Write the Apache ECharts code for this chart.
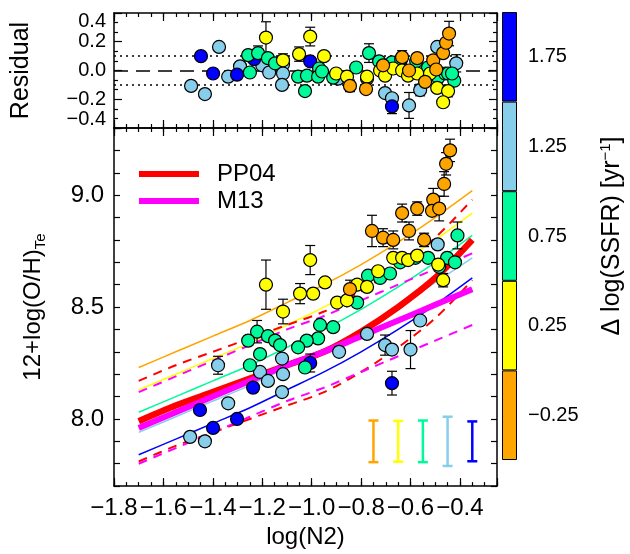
<!DOCTYPE html>
<html>
<head>
<meta charset="utf-8">
<script src="https://cdn.jsdelivr.net/npm/echarts@6/dist/echarts.min.js"></script>
<style>
html, body { margin: 0; padding: 0; background: #fff; }
#id-div-chart { width: 630px; height: 554px; }
</style>
</head>
<body>
<div id="id-div-chart"></div>
<script>
var e = (selector) => document.querySelector(selector)

// 色条的分档
var binTicks = ['\u22120.25', '0.25', '0.75', '1.25', '1.75']
var binBlocks = [1, 1, 1, 1, 1]

// 上面板: residual, [log(N2), residual]
var resOrange = [[-0.845, -0.107], [-0.78, -0.129], [-0.711, 0.036], [-0.634, 0.093], [-0.606, 0.0], [-0.573, 0.086],
    [-0.541, -0.079], [-0.508, 0.071], [-0.496, 0.007], [-0.468, 0.121], [-0.456, 0.193], [-0.444, 0.257]]
var resYellow = [[-1.185, 0.229], [-1.116, 0.071], [-1.051, 0.114], [-1.006, 0.236], [-0.95, 0.10], [-0.901, -0.021],
    [-0.857, -0.043], [-0.776, -0.043], [-0.723, 0.0], [-0.703, -0.036], [-0.67, 0.014], [-0.634, 0.0], [-0.61, -0.036],
    [-0.573, -0.021], [-0.521, -0.021], [-0.492, -0.121], [-0.448, -0.143], [-0.468, -0.221]]
var resGreen = [[-1.257, 0.107], [-1.25, -0.014], [-1.217, 0.121], [-1.177, 0.086], [-1.148, 0.05], [-1.055, -0.043],
    [-1.019, -0.036], [-1.027, -0.143], [-0.97, 0.014], [-0.974, -0.043], [-0.958, -0.007], [-0.913, -0.05], [-0.82, 0.021],
    [-0.768, 0.121], [-0.727, 0.064], [-0.675, 0.057], [-0.638, 0.079], [-0.577, 0.064], [-0.529, 0.021], [-0.488, -0.05],
    [-0.46, -0.021], [-0.448, -0.021], [-0.423, -0.071], [-0.432, -0.021]]
var resSky = [[-1.488, -0.107], [-1.432, -0.164], [-1.375, 0.164], [-1.338, -0.043], [-1.29, 0.029], [-1.2, 0.036],
    [-1.172, -0.014], [-1.116, 0.043], [-1.116, -0.021], [-1.12, -0.10], [-0.893, -0.057], [-0.776, -0.057], [-0.703, -0.157],
    [-0.675, -0.193], [-0.606, -0.243], [-0.561, -0.136], [-0.492, 0.164], [-0.415, 0.05]]
var resBlue = [[-1.448, 0.10], [-1.399, -0.021], [-1.302, -0.029], [-1.233, 0.079], [-1.006, 0.064], [-0.675, -0.25]]
// [log(N2), residual, error]
var resErrors = [[-1.185, 0.229, 0.11], [-1.006, 0.236, 0.065], [-1.051, 0.114, 0.05], [-1.116, 0.071, 0.045],
    [-1.217, 0.121, 0.05], [-0.768, 0.121, 0.065], [-0.634, 0.093, 0.045], [-0.444, 0.257, 0.085], [-0.415, 0.05, 0.06],
    [-0.606, -0.243, 0.09], [-0.675, -0.25, 0.05], [-0.845, -0.107, 0.04], [-0.448, -0.143, 0.04], [-0.468, -0.221, 0.03],
    [-0.561, -0.136, 0.04], [-0.675, 0.057, 0.03]]
var resLevels = [0.1, -0.1]
var resZero = [0]

// 下面板: [log(N2), 12+log(O/H)]
var ohOrange = [[-0.44, 9.20], [-0.456, 9.14], [-0.464, 9.05], [-0.508, 8.98], [-0.513, 8.93], [-0.484, 8.94],
    [-0.573, 8.94], [-0.634, 8.92], [-0.756, 8.84], [-0.711, 8.81], [-0.67, 8.80], [-0.606, 8.84], [-0.545, 8.80], [-0.845, 8.58]]
var ohYellow = [[-1.185, 8.60], [-1.116, 8.48], [-1.006, 8.71], [-1.047, 8.56], [-0.994, 8.56], [-0.946, 8.61],
    [-0.897, 8.52], [-0.857, 8.53], [-0.816, 8.60], [-0.776, 8.59], [-0.731, 8.66], [-0.67, 8.72], [-0.634, 8.72],
    [-0.61, 8.71], [-0.573, 8.73], [-0.488, 8.69], [-0.468, 8.62]]
var ohGreen = [[-0.816, 8.52], [-0.772, 8.64], [-0.723, 8.63], [-0.683, 8.65], [-0.642, 8.70], [-0.58, 8.72],
    [-0.529, 8.72], [-0.452, 8.72], [-0.42, 8.70], [-0.484, 8.68], [-0.41, 8.82], [-0.966, 8.42], [-0.913, 8.41],
    [-0.974, 8.36], [-1.02, 8.35], [-1.027, 8.23], [-1.055, 8.32], [-1.221, 8.39], [-1.257, 8.35], [-1.177, 8.37],
    [-1.148, 8.35], [-1.128, 8.33], [-1.209, 8.29], [-1.25, 8.24]]
var ohSky = [[-0.49, 8.78], [-0.561, 8.44], [-0.776, 8.38], [-0.703, 8.33], [-0.675, 8.31], [-0.60, 8.31],
    [-0.889, 8.30], [-1.12, 8.27], [-1.209, 8.21], [-1.177, 8.17], [-1.116, 8.20], [-1.12, 8.12], [-1.379, 8.24],
    [-1.338, 8.07], [-1.492, 7.92], [-1.432, 7.90]]
var ohBlue = [[-0.675, 8.16], [-1.006, 8.25], [-1.237, 8.14], [-1.452, 8.04], [-1.302, 8.00], [-1.399, 7.96]]
var ohErrors = [[-0.44, 9.20, 0.05], [-0.456, 9.14, 0.05], [-0.464, 9.05, 0.055], [-0.508, 8.98, 0.05], [-0.484, 8.94, 0.055],
    [-0.573, 8.94, 0.03], [-0.634, 8.92, 0.04], [-0.756, 8.84, 0.07], [-0.711, 8.81, 0.04], [-0.67, 8.80, 0.04],
    [-0.606, 8.84, 0.04], [-0.545, 8.80, 0.03], [-1.006, 8.71, 0.065], [-1.185, 8.60, 0.11], [-1.116, 8.48, 0.055],
    [-1.047, 8.56, 0.045], [-0.946, 8.61, 0.02], [-0.845, 8.58, 0.04], [-0.60, 8.31, 0.085], [-0.675, 8.16, 0.053],
    [-0.703, 8.33, 0.045], [-0.41, 8.82, 0.06], [-1.006, 8.25, 0.04], [-1.379, 8.24, 0.04], [-1.221, 8.39, 0.05],
    [-1.432, 7.90, 0.02], [-0.468, 8.62, 0.03]]
// 右下角每档的典型误差
var typicalErrors = [[-0.75, 7.90, 0.093], [-0.65, 7.90, 0.091], [-0.55, 7.90, 0.093], [-0.45, 7.90, 0.11], [-0.35, 7.90, 0.089]]

// 关系曲线
var curveX = [-1.7, -1.55, -1.4, -1.25, -1.1, -0.95, -0.8, -0.65, -0.5, -0.35]
var pp04 = [7.99, 8.06, 8.12, 8.18, 8.24, 8.30, 8.39, 8.50, 8.63, 8.80]
var pp04Up = [8.17, 8.24, 8.30, 8.36, 8.42, 8.48, 8.57, 8.68, 8.81, 8.98]
var pp04Low = [7.81, 7.88, 7.94, 8.00, 8.06, 8.12, 8.21, 8.32, 8.45, 8.62]
var m13 = [7.96, 8.03, 8.10, 8.17, 8.24, 8.30, 8.37, 8.44, 8.51, 8.58]
var m13Up = [8.12, 8.19, 8.26, 8.33, 8.40, 8.46, 8.53, 8.60, 8.67, 8.74]
var m13Low = [7.80, 7.87, 7.94, 8.01, 8.08, 8.14, 8.21, 8.28, 8.35, 8.42]
var fitOrange = [8.23, 8.30, 8.37, 8.44, 8.52, 8.60, 8.69, 8.79, 8.90, 9.02]
var fitYellow = [8.13, 8.20, 8.27, 8.34, 8.42, 8.50, 8.59, 8.69, 8.80, 8.92]
var fitGreen = [8.03, 8.10, 8.17, 8.24, 8.32, 8.40, 8.49, 8.59, 8.70, 8.82]
var fitSky = [7.94, 8.01, 8.08, 8.15, 8.23, 8.31, 8.40, 8.50, 8.61, 8.72]
var fitBlue = [7.84, 7.91, 7.98, 8.05, 8.13, 8.21, 8.30, 8.40, 8.51, 8.63]

var binColors = ['#FFA500', '#FFFF00', '#00FA9A', '#87CEEB', '#0000FF']
var font = 'Liberation Sans, Arial, sans-serif'

var pairs = function(xs, ys) {
    var out = []
    for (var i = 0; i < xs.length; i++) {
        out.push([xs[i], ys[i]])
    }
    return out
}

var minusSign = function(s) {
    return s.replace('-', '\u2212')
}

var isStep = function(v, step) {
    var k = v / step
    return Math.abs(k - Math.round(k)) < 1e-6
}

var xAxisOf = function(grid, position, interval, tickLen, major, labels) {
    return {
        type: 'value', gridIndex: grid, position: position,
        min: -1.8, max: -0.25, interval: interval,
        axisLine: {show: major, onZero: false, lineStyle: {color: '#000', width: 1.5}},
        axisTick: {show: true, inside: true, length: tickLen, lineStyle: {color: '#000', width: 1.2}},
        axisLabel: {
            show: labels, margin: 10, fontSize: 24, fontFamily: font, color: '#000', hideOverlap: false,
            formatter: function(v) {
                return isStep(v, 0.2) ? minusSign(v.toFixed(1)) : ''
            },
        },
        splitLine: {show: false},
    }
}

var errorBars = function(color, width, cap) {
    return function(params, api) {
        var x = api.value(0)
        var y = api.value(1)
        var err = api.value(2)
        var top = api.coord([x, y + err])
        var bot = api.coord([x, y - err])
        var c = typeof color == 'function' ? color(params.dataIndex) : color
        var style = {stroke: c, lineWidth: width}
        return {
            type: 'group',
            children: [
                {type: 'line', shape: {x1: top[0], y1: top[1], x2: bot[0], y2: bot[1]}, style: style},
                {type: 'line', shape: {x1: top[0] - cap, y1: top[1], x2: top[0] + cap, y2: top[1]}, style: style},
                {type: 'line', shape: {x1: bot[0] - cap, y1: bot[1], x2: bot[0] + cap, y2: bot[1]}, style: style},
            ],
        }
    }
}

var dots = function(name, data, color, xi, yi) {
    return {
        name: name, type: 'scatter', xAxisIndex: xi, yAxisIndex: yi, data: data,
        symbol: 'circle', symbolSize: 13, z: 5, silent: true,
        itemStyle: {color: color, borderColor: '#000', borderWidth: 1.2, opacity: 1},
    }
}

var curve = function(name, ys, color, width, dash, z) {
    return {
        name: name, type: 'line', xAxisIndex: 4, yAxisIndex: 2, data: pairs(curveX, ys),
        showSymbol: false, smooth: 0.3, z: z, silent: true, color: color,
        lineStyle: {color: color, width: width, type: dash},
    }
}

var buildOption = function() {
    var refLines = []
    for (var i = 0; i < resLevels.length; i++) {
        refLines.push({yAxis: resLevels[i], lineStyle: {type: [2, 4], width: 1.6, color: '#000'}})
    }
    refLines.push({yAxis: resZero[0], lineStyle: {type: [14, 8], width: 1.5, color: '#000'}})

    var option = {
        animation: false,
        backgroundColor: '#fff',
        textStyle: {fontFamily: font},
        grid: [
            {left: 114, top: 13, width: 383, height: 115},
            {left: 114, top: 128, width: 383, height: 359},
            {left: 502, top: 12, width: 15, height: 448},
        ],
        legend: {
            data: ['PP04', 'M13'], orient: 'vertical', left: 139, top: 162, padding: 0,
            icon: 'rect', itemWidth: 60, itemHeight: 6, itemGap: 3, selectedMode: false,
            textStyle: {fontSize: 24, color: '#000', fontFamily: font, padding: [0, 0, 0, 13]},
        },
        xAxis: [
            xAxisOf(0, 'bottom', 0.2, 8, true, false),
            xAxisOf(0, 'bottom', 0.05, 4, false, false),
            xAxisOf(0, 'top', 0.2, 8, true, false),
            xAxisOf(0, 'top', 0.05, 4, false, false),
            Object.assign(xAxisOf(1, 'bottom', 0.2, 8, true, true), {
                name: 'log(N2)', nameLocation: 'middle', nameGap: 38,
                nameTextStyle: {fontSize: 24, color: '#000', fontFamily: font},
            }),
            xAxisOf(1, 'bottom', 0.05, 4, false, false),
            xAxisOf(1, 'top', 0.2, 8, true, false),
            xAxisOf(1, 'top', 0.05, 4, false, false),
            {type: 'value', gridIndex: 2, min: 0, max: 1, show: false},
        ],
        yAxis: [
            {
                type: 'value', gridIndex: 0, position: 'left', min: -0.4, max: 0.4, interval: 0.2,
                name: 'Residual', nameLocation: 'middle', nameGap: 80, nameRotate: 90,
                nameTextStyle: {fontSize: 25, color: '#000', fontFamily: font},
                axisLine: {show: true, onZero: false, lineStyle: {color: '#000', width: 1.5}},
                axisTick: {inside: true, length: 8, lineStyle: {color: '#000', width: 1.2}},
                minorTick: {show: true, splitNumber: 3, length: 4, lineStyle: {color: '#000', width: 1.2}},
                axisLabel: {
                    fontSize: 20, lineHeight: 17, color: '#000', fontFamily: font, margin: 8,
                    hideOverlap: false, interval: 0,
                    showMinLabel: true, showMaxLabel: true,
                    verticalAlignMinLabel: 'bottom', verticalAlignMaxLabel: 'top',
                    formatter: function(v) { return minusSign(v.toFixed(1)) },
                },
                splitLine: {show: false},
            },
            {
                type: 'value', gridIndex: 0, position: 'right', min: -0.4, max: 0.4, interval: 0.2,
                axisLine: {show: true, onZero: false, lineStyle: {color: '#000', width: 1.5}},
                axisTick: {inside: true, length: 8, lineStyle: {color: '#000', width: 1.2}},
                minorTick: {show: true, splitNumber: 3, length: 4, lineStyle: {color: '#000', width: 1.2}},
                axisLabel: {show: false},
                splitLine: {show: false},
            },
            {
                type: 'value', gridIndex: 1, position: 'left', min: 7.7, max: 9.3, interval: 0.1,
                name: '12+log(O/H){sub|Te}', nameLocation: 'middle', nameGap: 66, nameRotate: 90,
                nameTextStyle: {
                    fontSize: 24, color: '#000', fontFamily: font,
                    rich: {sub: {fontSize: 15, fontFamily: font, color: '#000', padding: [14, 0, 0, 0]}},
                },
                axisLine: {show: true, onZero: false, lineStyle: {color: '#000', width: 1.5}},
                axisTick: {inside: true, length: 6, lineStyle: {color: '#000', width: 1.2}},
                axisLabel: {
                    fontSize: 24, color: '#000', fontFamily: font, margin: 10, hideOverlap: false, interval: 0,
                    formatter: function(v) { return isStep(v, 0.5) ? v.toFixed(1) : '' },
                },
                splitLine: {show: false},
            },
            {
                type: 'value', gridIndex: 1, position: 'right', min: 7.7, max: 9.3, interval: 0.1,
                axisLine: {show: true, onZero: false, lineStyle: {color: '#000', width: 1.5}},
                axisTick: {inside: true, length: 6, lineStyle: {color: '#000', width: 1.2}},
                axisLabel: {show: false},
                splitLine: {show: false},
            },
            {
                type: 'category', gridIndex: 2, position: 'right', data: binTicks,
                name: '\u0394 log(SSFR) [yr{sup|\u22121}]', nameLocation: 'middle', nameGap: 81, nameRotate: 90,
                nameTextStyle: {
                    fontSize: 25, color: '#000', fontFamily: font,
                    rich: {sup: {fontSize: 15, fontFamily: font, color: '#000', padding: [0, 0, 14, 0]}},
                },
                axisLine: {show: false},
                axisTick: {show: false},
                axisLabel: {fontSize: 20, color: '#000', fontFamily: font, margin: 11},
                splitLine: {show: false},
            },
        ],
        series: [
            // 上面板
            {
                type: 'custom', xAxisIndex: 0, yAxisIndex: 0, data: resErrors, z: 3, silent: true,
                renderItem: errorBars('#000', 1.2, 5),
                markLine: {silent: true, symbol: 'none', label: {show: false}, data: refLines},
            },
            dots('rs', resSky, binColors[3], 0, 0),
            dots('rb', resBlue, binColors[4], 0, 0),
            dots('rg', resGreen, binColors[2], 0, 0),
            dots('ry', resYellow, binColors[1], 0, 0),
            dots('ro', resOrange, binColors[0], 0, 0),
            // 下面板曲线
            curve('fo', fitOrange, binColors[0], 1.5, 'solid', 2),
            curve('fy', fitYellow, binColors[1], 1.5, 'solid', 2),
            curve('fg', fitGreen, binColors[2], 1.5, 'solid', 2),
            curve('fs', fitSky, binColors[3], 1.5, 'solid', 2),
            curve('fb', fitBlue, binColors[4], 1.5, 'solid', 2),
            curve('pu', pp04Up, '#FF0000', 2, [9, 7], 2),
            curve('pl', pp04Low, '#FF0000', 2, [9, 7], 2),
            curve('mu', m13Up, '#FF00FF', 2, [9, 7], 2),
            curve('ml', m13Low, '#FF00FF', 2, [9, 7], 2),
            curve('PP04', pp04, '#FF0000', 6.5, 'solid', 3),
            curve('M13', m13, '#FF00FF', 6, 'solid', 3),
            {
                type: 'custom', xAxisIndex: 4, yAxisIndex: 2, data: ohErrors, z: 4, silent: true,
                renderItem: errorBars('#000', 1.2, 5),
            },
            dots('os', ohSky, binColors[3], 4, 2),
            dots('ob', ohBlue, binColors[4], 4, 2),
            dots('og', ohGreen, binColors[2], 4, 2),
            dots('oy', ohYellow, binColors[1], 4, 2),
            dots('oo', ohOrange, binColors[0], 4, 2),
            {
                type: 'custom', xAxisIndex: 4, yAxisIndex: 2, data: typicalErrors, z: 4, silent: true,
                renderItem: errorBars(function(i) { return binColors[i] }, 2.5, 5),
            },
            // 色条
            {
                type: 'bar', xAxisIndex: 8, yAxisIndex: 4, data: binBlocks, barWidth: '100%', silent: true,
                itemStyle: {
                    color: function(p) { return binColors[p.dataIndex] },
                    borderColor: '#000', borderWidth: 1,
                },
            },
        ],
    }
    return option
}

var __main = function() {
    var chart = echarts.init(e('#id-div-chart'), null, {renderer: 'canvas'})
    chart.setOption(buildOption())
}

__main()
</script>
</body>
</html>
